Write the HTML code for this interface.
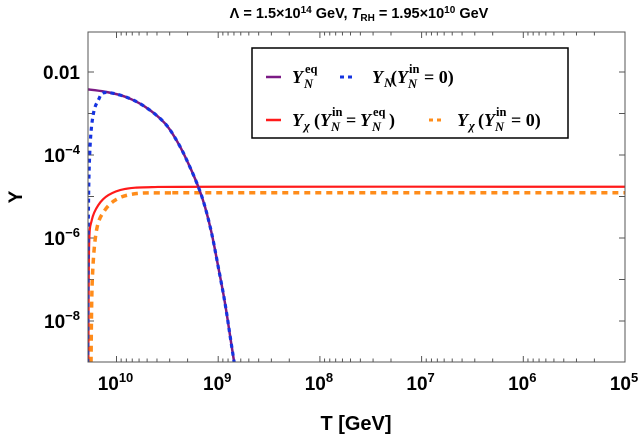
<!DOCTYPE html>
<html><head><meta charset="utf-8">
<style>
html,body{margin:0;padding:0;background:#fff;}
svg{display:block;font-family:"Liberation Sans",sans-serif;}
.tl{font-weight:bold;font-size:19px;fill:#000;}
.lg{font-family:"Liberation Serif",serif;font-weight:bold;font-size:18px;}
.ls{font-family:"Liberation Serif",serif;font-weight:bold;font-size:12.5px;}
</style></head>
<body>
<svg id="chart" width="642" height="437" viewBox="0 0 642 437" xmlns="http://www.w3.org/2000/svg">
<defs><clipPath id="clip"><rect x="88" y="32" width="537" height="330"/></clipPath></defs>
<text x="359" y="18" text-anchor="middle" font-size="14.5" font-weight="bold">Λ = 1.5×10<tspan dy="-5" font-size="10">14</tspan><tspan dy="5"> GeV,  </tspan><tspan font-style="italic">T</tspan><tspan dy="3" font-size="10">RH</tspan><tspan dy="-3"> = 1.95×10</tspan><tspan dy="-5" font-size="10">10</tspan><tspan dy="5"> GeV</tspan></text>
<g id="grid"></g>
<g id="series" clip-path="url(#clip)"></g>
<rect x="88" y="32" width="537" height="330" fill="none" stroke="#555" stroke-width="1"/>
<text x="0" y="0" transform="translate(22,197) rotate(-90)" text-anchor="middle" font-size="19" font-weight="bold">Y</text>
<text x="356" y="430" text-anchor="middle" font-size="20" font-weight="bold">T [GeV]</text>
<g>
<rect x="252" y="48" width="316" height="90" fill="#fff" stroke="#000" stroke-width="1.5"/>
<line x1="266" y1="77" x2="281" y2="77" stroke="#7b1a85" stroke-width="2.5"/>
<g>
<text class="lg" x="292" y="83" font-style="italic">Y</text>
<text class="ls" x="305" y="73">eq</text>
<text class="ls" x="304" y="88" font-style="italic">N</text>
</g>
<line x1="340" y1="77" x2="356" y2="77" stroke="#1533e0" stroke-width="3" stroke-dasharray="4,4"/>
<g>
<text class="lg" x="372" y="83" font-style="italic">Y</text>
<text class="ls" x="384" y="87" font-style="italic">N</text>
<text class="lg" x="391" y="83">(</text>
<text class="lg" x="397" y="83" font-style="italic">Y</text>
<text class="ls" x="409" y="73">in</text>
<text class="ls" x="408" y="88" font-style="italic">N</text>
<text class="lg" x="424" y="83">= 0)</text>
</g>
<line x1="266" y1="120" x2="281" y2="120" stroke="#ff1a1a" stroke-width="2.5"/>
<g>
<text class="lg" x="292" y="126" font-style="italic">Y</text>
<text class="ls" x="304" y="130" font-style="italic">χ</text>
<text class="lg" x="314" y="126">(</text>
<text class="lg" x="320" y="126" font-style="italic">Y</text>
<text class="ls" x="332" y="116">in</text>
<text class="ls" x="331" y="131" font-style="italic">N</text>
<text class="lg" x="346" y="126">=</text>
<text class="lg" x="360" y="126" font-style="italic">Y</text>
<text class="ls" x="373" y="116">eq</text>
<text class="ls" x="372" y="131" font-style="italic">N</text>
<text class="lg" x="389" y="126">)</text>
</g>
<line x1="429" y1="120" x2="445" y2="120" stroke="#ff8c1a" stroke-width="3" stroke-dasharray="4,4"/>
<g>
<text class="lg" x="457" y="126" font-style="italic">Y</text>
<text class="ls" x="469" y="130" font-style="italic">χ</text>
<text class="lg" x="478" y="126">(</text>
<text class="lg" x="484" y="126" font-style="italic">Y</text>
<text class="ls" x="496" y="116">in</text>
<text class="ls" x="495" y="131" font-style="italic">N</text>
<text class="lg" x="511" y="126">= 0)</text>
</g>
</g>
</svg>
<script>
const xTickExps = [10, 9, 8, 7, 6, 5];
const yTickExps = [-2, -4, -6, -8];
const purpleT = [1.95e10,1.30e10,8.24e9,5.25e9,3.34e9,2.47e9,1.97e9,1.57e9,1.35e9,1.16e9,1.0e9,8.57e8,7.36e8,6.95e8];
const purpleY = [3.83e-3,3.35e-3,2.54e-3,1.46e-3,5.8e-4,1.91e-4,6.3e-5,1.72e-5,5.7e-6,1.3e-6,2.04e-7,2.67e-8,2.4e-9,9.8e-10];
const blueT = [1.92e10,1.89e10,1.82e10,1.69e10,1.51e10,1.30e10,8.24e9,5.25e9,3.34e9,2.47e9,1.97e9,1.57e9,1.35e9,1.16e9,1.0e9,8.57e8,7.36e8,6.95e8];
const blueY = [9.9e-10,4.0e-6,1.59e-4,9.7e-4,2.1e-3,3.2e-3,2.54e-3,1.46e-3,5.8e-4,1.91e-4,6.3e-5,1.72e-5,5.7e-6,1.3e-6,2.04e-7,2.67e-8,2.4e-9,9.8e-10];
const redT = [1.89e10,1.86e10,1.75e10,1.51e10,1.2e10,8.24e9,4.51e9,1e9,1e5];
const redY = [9.9e-10,6.17e-7,2.7e-6,6.2e-6,1.08e-5,1.52e-5,1.68e-5,1.72e-5,1.72e-5];
const orangeT = [1.78e10,1.73e10,1.57e10,1.30e10,9.6e9,6.1e9,3.1e9,1e9,1e5];
const orangeY = [9.9e-10,9.7e-8,1.56e-6,4.7e-6,9.0e-6,1.19e-5,1.22e-5,1.23e-5,1.23e-5];

const NS='http://www.w3.org/2000/svg';
const X0=625, DEC=101.7;
function xs(t){return X0-(Math.log10(t)-5)*DEC;}
function ys(v){return 238-(Math.log10(v)+6)*41.5;}
const grid=document.getElementById('grid');
const ser=document.getElementById('series');
function mk(tag,attrs,parent){const e=document.createElementNS(NS,tag);for(const k in attrs)e.setAttribute(k,attrs[k]);parent.appendChild(e);return e;}

for(let n=4;n<=10;n++){
  for(let k=1;k<=9;k++){
    const t=k*Math.pow(10,n);const x=xs(t);
    if(x<88||x>625.5)continue;
    const len=k===1?6:3.5;
    const a=mk('line',{x1:x,y1:362,x2:x,y2:362-len,stroke:'#555','stroke-width':1},grid);
    
    
    const b=mk('line',{x1:x,y1:32,x2:x,y2:32+len,stroke:'#555','stroke-width':1},grid);
    
    
  }
}
xTickExps.forEach(e=>{
  const x=xs(Math.pow(10,e));
  const t=mk('text',{x:x-1,y:390,'text-anchor':'middle',class:'tl'},grid);
  
  
  t.innerHTML='10<tspan dy="-8" font-size="13">'+e+'</tspan>';
});
for(let e=-9;e<=-1;e++){
  const y=ys(Math.pow(10,e));
  if(y<32||y>362)continue;
  const a=mk('line',{x1:88,y1:y,x2:94,y2:y,stroke:'#555','stroke-width':1},grid);
  
  
  const b=mk('line',{x1:625,y1:y,x2:619,y2:y,stroke:'#555','stroke-width':1},grid);
  
  
}
yTickExps.forEach(e=>{
  const y=ys(Math.pow(10,e));
  const t=mk('text',{x:80,y:y+7,'text-anchor':'end',class:'tl'},grid);
  
  
  if(e===-2) t.textContent='0.01';
  else t.innerHTML='10<tspan dy="-8" font-size="13">−'+(-e)+'</tspan>';
});
function smoothPath(pts){
  let d='M'+pts[0][0].toFixed(2)+','+pts[0][1].toFixed(2);
  for(let i=0;i<pts.length-1;i++){
    const p0=pts[Math.max(0,i-1)],p1=pts[i],p2=pts[i+1],p3=pts[Math.min(pts.length-1,i+2)];
    const c1=[p1[0]+(p2[0]-p0[0])/6,p1[1]+(p2[1]-p0[1])/6];
    const c2=[p2[0]-(p3[0]-p1[0])/6,p2[1]-(p3[1]-p1[1])/6];
    d+=' C'+c1[0].toFixed(2)+','+c1[1].toFixed(2)+' '+c2[0].toFixed(2)+','+c2[1].toFixed(2)+' '+p2[0].toFixed(2)+','+p2[1].toFixed(2);
  }
  return d;
}
function line(T,Y,color,w,dash,name){
  const pts=T.map((t,i)=>[xs(t),ys(Y[i])]);
  const p=mk('path',{d:smoothPath(pts),fill:'none',stroke:color,'stroke-width':w,'stroke-linejoin':'round'},ser);
  if(dash)p.setAttribute('stroke-dasharray',dash);
  
  
}
line(redT,redY,'#ff1a1a',2.2,null,'series-ychi-eq');
line(orangeT,orangeY,'#ff8c1a',3.5,'6,5','series-ychi-zero');
line(purpleT,purpleY,'#7b1a85',2.5,null,'series-yn-eq');
line(blueT,blueY,'#1533e0',3.2,'4,4','series-yn-zero');
</script>
</body></html>
